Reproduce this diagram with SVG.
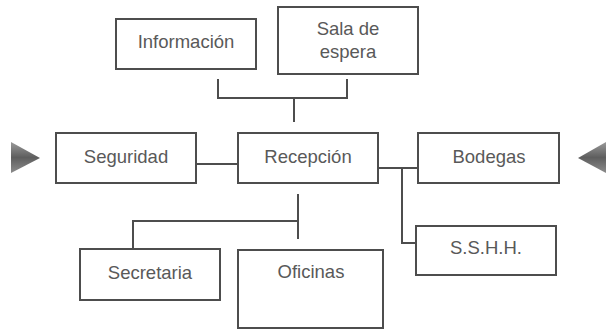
<svg xmlns="http://www.w3.org/2000/svg" width="611" height="331" viewBox="0 0 611 331">
<defs>
<style>
.box{fill:#fff;stroke:#4d4d4d;stroke-width:2}
.lbl{font-family:"Liberation Sans",Arial,sans-serif;font-size:18.5px;fill:#595959;text-anchor:middle}
.con{fill:none;stroke:#4d4d4d;stroke-width:2}
</style>
<linearGradient id="ag" x1="0" y1="0" x2="0" y2="1">
<stop offset="0" stop-color="#9a9a9a"/>
<stop offset="0.5" stop-color="#5e5e5e"/>
<stop offset="1" stop-color="#8c8c8c"/>
</linearGradient>
</defs>
<rect width="611" height="331" fill="#fff"/>
<g id="connectors">
<path class="con" d="M218 79V98H347V79M294 98V122"/>
<path class="con" d="M196 164H238"/>
<path class="con" d="M378 168H418M402 168V243H416"/>
<path class="con" d="M298 194V239M298 221H133V249"/>
</g>
<g id="arrow-left"><polygon points="11,142 40,158 11,173" fill="url(#ag)"/></g>
<g id="arrow-right"><polygon points="606,142 578,158 606,173" fill="url(#ag)"/></g>
<g id="informacion"><rect class="box" x="116" y="19" width="140" height="50"/><text class="lbl" x="186" y="48">Información</text></g>
<g id="sala"><rect class="box" x="278" y="7" width="140" height="67"/><text class="lbl" x="348" y="35">Sala de</text><text class="lbl" x="348" y="58">espera</text></g>
<g id="seguridad"><rect class="box" x="56" y="133" width="140" height="50"/><text class="lbl" x="126" y="163">Seguridad</text></g>
<g id="recepcion"><rect class="box" x="238" y="133" width="140" height="50"/><text class="lbl" x="308" y="163">Recepción</text></g>
<g id="bodegas"><rect class="box" x="418" y="133" width="141" height="50"/><text class="lbl" x="489" y="163">Bodegas</text></g>
<g id="sshh"><rect class="box" x="416" y="226" width="140" height="49"/><text class="lbl" x="486" y="254">S.S.H.H.</text></g>
<g id="secretaria"><rect class="box" x="80" y="249" width="140" height="51"/><text class="lbl" x="150" y="279">Secretaria</text></g>
<g id="oficinas"><rect class="box" x="238" y="250" width="145" height="78"/><text class="lbl" x="311" y="278">Oficinas</text></g>
</svg>
